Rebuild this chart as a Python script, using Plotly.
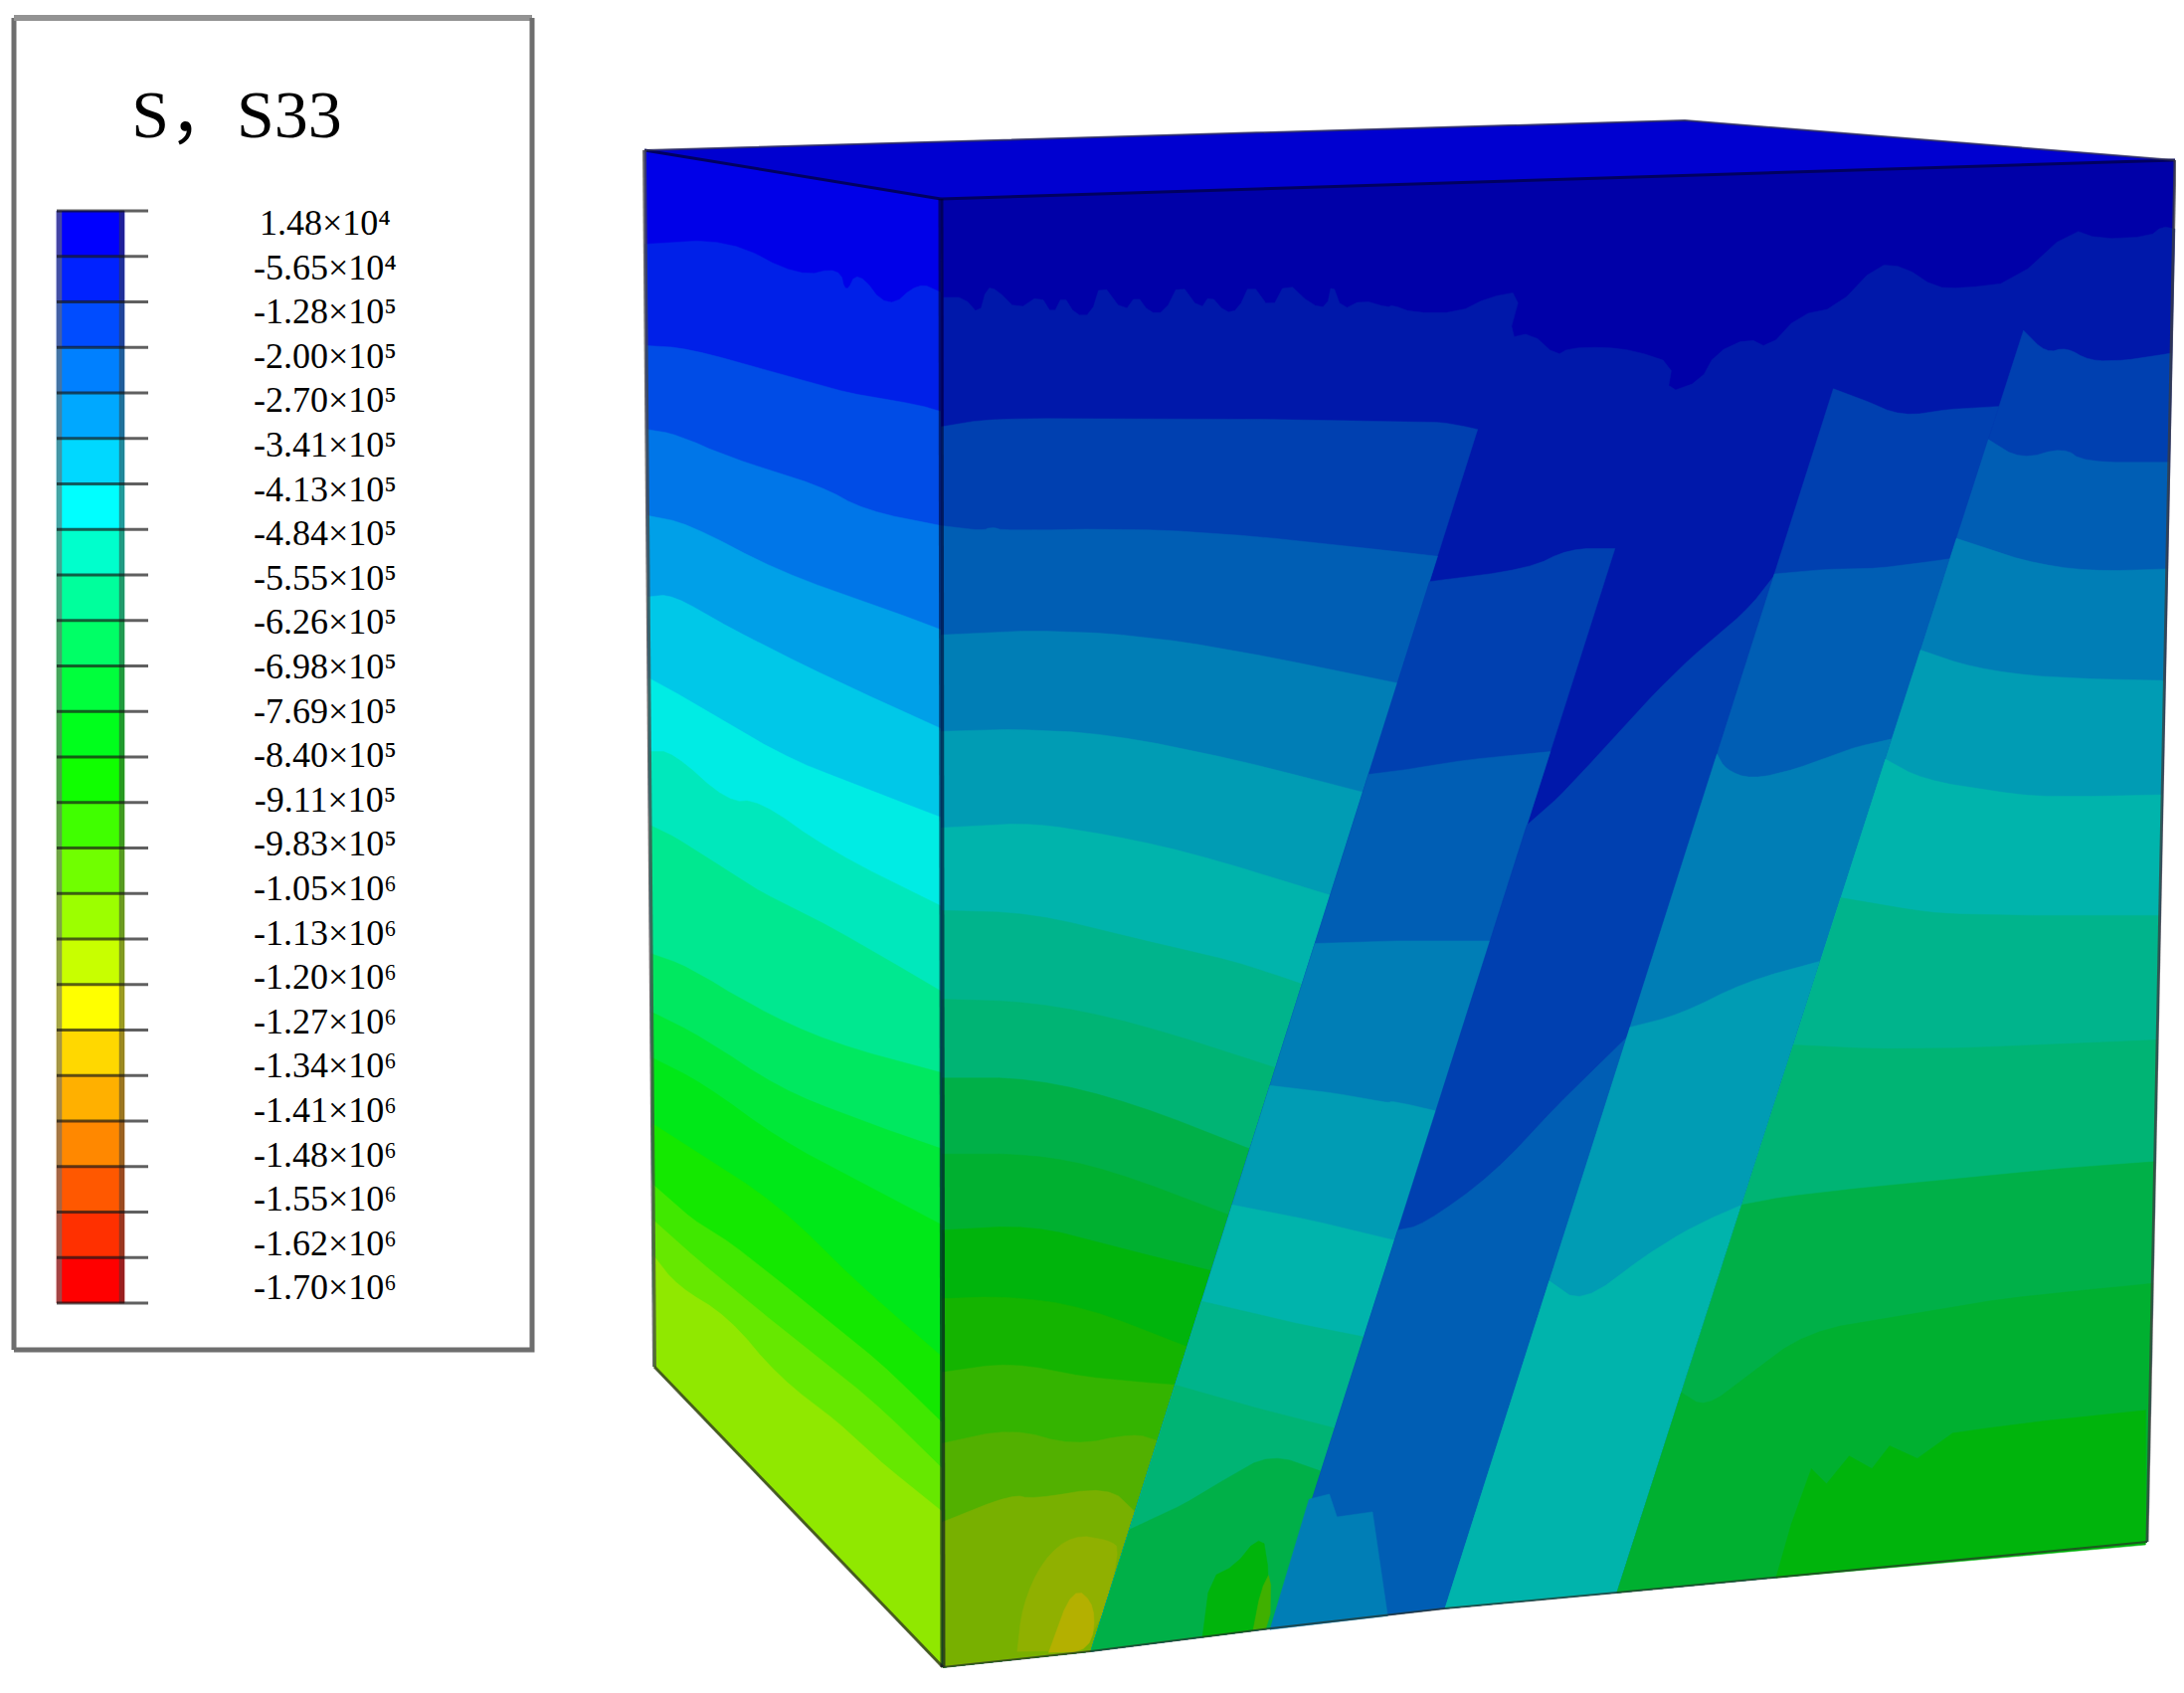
import plotly.graph_objects as go

# ---------- legend data ----------
legend_title = "S，S33"
legend_mantissa = ["1.48", "-5.65", "-1.28", "-2.00", "-2.70", "-3.41", "-4.13", "-4.84", "-5.55", "-6.26", "-6.98", "-7.69",
                   "-8.40", "-9.11", "-9.83", "-1.05", "-1.13", "-1.20", "-1.27", "-1.34", "-1.41", "-1.48", "-1.55", "-1.62", "-1.70"]
legend_exponent = ["⁴", "⁴", "⁵", "⁵", "⁵", "⁵", "⁵", "⁵", "⁵", "⁵", "⁵", "⁵", "⁵", "⁵", "⁵",
                   "⁶", "⁶", "⁶", "⁶", "⁶", "⁶", "⁶", "⁶", "⁶", "⁶"]
legend_colors = ["#0000ff", "#0022ff", "#004cff", "#0080ff", "#00a8ff", "#00d8ff", "#00ffff", "#00ffcc", "#00ff9c", "#00ff66",
                 "#00ff3c", "#00ff1c", "#10ff00", "#40ff00", "#70ff00", "#9cff00", "#c8ff00", "#ffff00", "#ffd800", "#ffb000",
                 "#ff8800", "#ff5800", "#ff3000", "#ff0000"]

# shaded contour colours on the two visible side faces and the top face
side_colors = ["#0000e8", "#0020e8", "#004ce6", "#0076e8", "#00a0e8", "#00c8e8", "#00ece4", "#00e8bc", "#00e890", "#00e860",
               "#00e838", "#00e818", "#14e800", "#40e800", "#66e800", "#90e800"]
front_colors = ["#0000a8", "#0018aa", "#0040b0", "#005eb4", "#007eb6", "#009cb4", "#00b4ac", "#00b48c", "#00b474", "#00b048",
                "#00b030", "#00b40c", "#14b400", "#34b400", "#52b000", "#78b000", "#90b000", "#b4b000"]
top_color = "#0000d0"

# ---------- reading grids of the four enlarged views ----------
def q(x0, y0, sx, pts):
    return [(x0 + a / sx, y0 + b / 1.96) for a, b in pts]
def c3(p): return q(630, 100, 1.96, p)
def c4(p): return q(1400, 100, 1.97, p)
def c5(p): return q(630, 900, 1.96, p)
def c6(p): return q(1400, 900, 1.97, p)

# cube corners
A, B, C, D = (648, 151), (946, 200), (2187, 161), (1694, 121)
E, F, G = (658, 1374), (948, 1676), (2159, 1550)

# joint lines on the front face
L1 = [(1485, 434), (1097, 1660)]
L2 = [(1624, 551), (1278, 1637)]
L3 = [(1844, 389), (1453, 1617)]
L4 = [(2035, 331), (1626, 1601)]

# ---------- left face contour lines ----------
side_bounds = [
    c3([(45,285),(200,275),(340,350),(420,330),(432,385),(455,335),(515,415),(575,360),(610,380)]),
    c3([(45,485),(120,490),(300,540),(440,580),(570,600),(610,615)]),
    c3([(45,650),(100,660),(200,705),(380,760),(470,810),(610,840)]),
    c3([(45,820),(120,835),(300,930),(500,1000),(610,1045)]),
    c3([(45,980),(90,975),(200,1040),(400,1140),(610,1240)]),
    c3([(45,1140),(100,1170),(300,1290),(450,1350),(610,1415)]),
    c3([(45,1285),(90,1285),(200,1385),(260,1380),(400,1480),(610,1590)]),
    c3([(45,1430),(90,1450),(200,1520),(260,1560)]) + c5([(400,60),(610,190)]),
    c5([(55,115),(120,140),(250,220),(400,290),(610,350)]),
    c5([(55,230),(150,280),(300,380),(450,440),(610,500)]),
    c5([(55,320),(150,370),(300,480),(450,560),(610,650)]),
    c5([(55,450),(130,500),(300,610),(450,760),(610,910)]),
    c5([(55,570),(130,640),(200,680),(350,800),(500,920),(610,1040)]),
    c5([(55,640),(130,710),(300,850),(480,990),(610,1130)]),
    c5([(60,710),(100,770),(200,830),(300,950),(420,1040),(480,1100),(610,1215)]),
]

# ---------- front face, contour line across the whole width ----------
front_top_bound = c3([(625,390),(665,390),(695,425),(710,370),(730,375),(770,415),(815,385),(840,425),(860,385),(885,425),(915,425),
                      (935,360),(980,420),(1005,385),(1030,420),(1060,420),(1090,360),(1130,415),(1150,385),(1180,420),(1205,415),
                      (1230,360),(1270,415),(1300,358),(1350,405),(1380,410),(1390,360),(1410,415),(1450,395),(1500,410)]) + \
                  c4([(0,405),(40,420),(130,420),(190,390),(255,378),(230,470),(275,460),(325,505),(350,490),(420,488),(480,495),
                      (555,520),(545,578),(610,555),(640,500),(705,470),(745,490),(805,425),(880,410),(960,325),(1015,330),(1075,370),
                      (1130,372),(1230,360),(1345,255),(1400,275),(1500,270),(1525,250),(1550,255)])

# ---------- left block ----------
left_zone = [
    (2, c3([(625,645),(720,628),(1000,630),(1300,630)]) + c4([(0,635),(100,635),(168,650)])),
    (3, c3([(625,840),(700,850),(720,842),(745,850),(1000,845),(1240,860)]) + c4([(0,890),(90,900)])),
    (4, c3([(625,1055),(800,1045),(1000,1055),(1200,1085),(1515,1150)])),
    (5, c3([(625,1245),(760,1240),(950,1250),(1200,1300),(1450,1365)])),
    (6, c3([(625,1435),(780,1425),(900,1440),(1100,1480),(1385,1568)])),
    (7, c5([(630,30),(800,35),(1000,85),(1200,130),(1320,175)])),
    (8, c5([(630,205),(800,210),(1000,250),(1270,340)])),
    (9, c5([(630,360),(800,360),(1000,410),(1225,500)])),
    (10, c5([(630,510),(800,510),(950,540),(1180,630)])),
    (11, c5([(630,660),(800,650),(950,690),(1140,740)])),
    (12, c5([(630,795),(750,790),(900,810),(1090,890)])),
    (13, c5([(630,940),(760,920),(900,950),(1070,965)])),
    (14, c5([(630,1080),(760,1050),(880,1085),(1000,1060),(1040,1075)])),
    (15, c5([(630,1235),(760,1180),(800,1190),(950,1165),(990,1215)])),
]
left_patch_16 = c5([(770,1490),(780,1400),(820,1310),(880,1260),(950,1270),(975,1290),(918,1488)])
left_patch_17 = c5([(832,1492),(880,1360),(925,1400),(915,1490)])

# ---------- first strip ----------
strip1 = [
    (2, c4([(85,950),(270,925),(350,885),(440,885)])),
    (3, c3([(1460,1330),(1500,1325)]) + c4([(0,1325),(150,1300),(305,1285)])),
    (4, c5([(1365,95),(1500,90)]) + c6([(0,90),(180,90)])),
    (5, c5([(1275,375),(1400,390),(1500,410)]) + c6([(0,405),(80,425)])),
    (6, c5([(1195,610),(1350,640),(1505,680)])),
    (7, c5([(1140,800),(1300,840),(1435,870)])),
    (8, c5([(1085,965),(1200,1000),(1385,1050)])),
    (9, c5([(1010,1250),(1100,1200),(1180,1150),(1270,1100),(1345,1135)])),
]
strip1_patch_green = c5([(1135,1462),(1150,1345),(1200,1320),(1240,1270),(1262,1280),(1268,1445)])
strip1_patch_olive = c5([(1235,1447),(1250,1370),(1270,1330),(1268,1445)])

# ---------- second strip ----------
strip2 = [
    (2, c4([(270,1430),(330,1375),(400,1300),(500,1190),(590,1100),(700,1010),(760,940)])),
    (3, c6([(10,660),(60,650),(200,550),(320,420),(465,280)])),
]
strip2_patch = c5([(1345,1190),(1385,1180),(1400,1225),(1470,1215),(1500,1420),(1268,1447)])

# ---------- third strip ----------
strip3 = [
    (2, c4([(875,570),(930,590),(1010,625),(1100,610),(1195,605)])),
    (3, c4([(765,935),(860,925),(960,925),(1090,905)])),
    (4, c4([(655,1290),(660,1320),(710,1340),(800,1320),(900,1280),(975,1260)])),
    (5, c6([(470,260),(570,235),(700,170),(840,130)])),
    (6, c6([(315,760),(375,805),(500,710),(600,650),(688,610)])),
]

# ---------- right block ----------
right_zone = [
    (2, c4([(1250,455),(1295,500),(1335,488),(1380,515),(1450,515),(1540,500)])),
    (3, c4([(1175,670),(1245,710),(1330,685),(1370,715),(1535,715)])),
    (4, c4([(1120,865),(1250,910),(1380,930),(1530,925)])),
    (5, c4([(1045,1085),(1150,1120),(1300,1140),(1520,1145)])),
    (6, c4([(980,1300),(1050,1340),(1200,1365),(1300,1375),(1515,1370)])),
    (7, c6([(885,5),(1000,25),(1120,40),(1510,40)])),
    (8, c6([(800,295),(1000,305),(1300,295),(1510,285)])),
    (9, c6([(690,610),(800,590),(1100,560),(1300,540),(1510,525)])),
    (10, c6([(570,980),(620,1010),(700,950),(820,860),(1000,830),(1200,795),(1500,765)])),
]
right_patch_11 = c6([(760,1345),(790,1240),(830,1130),(860,1160),(905,1105),(950,1130),(985,1085),(1040,1110),(1110,1060),(1180,1050),(1300,1035),(1492,1015),(1492,1280)])

# ---------- drawing helpers ----------
fig = go.Figure()

def smooth(pts, rounds=2):
    # corner cutting of a hand-read contour line; its ends stay where they are
    for _ in range(rounds):
        out = [pts[0]]
        for (x0, y0), (x1, y1) in zip(pts[:-1], pts[1:]):
            out.append((0.75 * x0 + 0.25 * x1, 0.75 * y0 + 0.25 * y1))
            out.append((0.25 * x0 + 0.75 * x1, 0.25 * y0 + 0.75 * y1))
        out.append(pts[-1])
        pts = out
    return pts

def poly(pts, color):
    xs = [p[0] for p in pts] + [pts[0][0]]
    ys = [p[1] for p in pts] + [pts[0][1]]
    fig.add_trace(go.Scatter(x=xs, y=ys, mode="lines", fill="toself", fillcolor=color,
                             line=dict(color=color, width=0.5), hoverinfo="skip", showlegend=False))

def line(pts, color, width):
    fig.add_trace(go.Scatter(x=[p[0] for p in pts], y=[p[1] for p in pts], mode="lines",
                             line=dict(color=color, width=width), hoverinfo="skip", showlegend=False))

def at_y(L, y):
    (x0, y0), (x1, y1) = L
    return x0 + (x1 - x0) * (y - y0) / (y1 - y0)

def band(left, right, bound, color):
    pts = list(bound)
    pts[0] = (at_y(left, pts[0][1]), pts[0][1])
    pts[-1] = (at_y(right, pts[-1][1]), pts[-1][1])
    poly(smooth(pts) + [right[1], left[1]], color)

# ---------- top face ----------
poly([A, D, C, B], top_color)

# ---------- left face ----------
poly([A, B, F, E], side_colors[0])
for i, b in enumerate(side_bounds):
    band([A, E], [B, F], b, side_colors[i + 1])

# ---------- front face ----------
edge_L = [B, F]
edge_R = [C, G]
poly([B, C, G, L4[1], L3[1], L2[1], L1[1], F], front_colors[0])
poly(smooth(front_top_bound, 1) + [G, L4[1], L3[1], L2[1], L1[1], F], front_colors[1])

for idx, b in left_zone:
    band(edge_L, L1, b, front_colors[idx])
poly(smooth(left_patch_16 + left_patch_16[:1]), front_colors[16])
poly(smooth(left_patch_17 + left_patch_17[:1]), front_colors[17])

for idx, b in strip1:
    band(L1, L2, b, front_colors[idx])
poly(smooth(strip1_patch_green + strip1_patch_green[:1], 1), front_colors[11])
poly(smooth(strip1_patch_olive + strip1_patch_olive[:1], 1), "#40b000")

for idx, b in strip2:
    band(L2, L3, b, front_colors[idx])
poly(strip2_patch, front_colors[4])

for idx, b in strip3:
    band(L3, L4, b, front_colors[idx])

for idx, b in right_zone:
    band(L4, edge_R, b, front_colors[idx])
poly(right_patch_11, "#00b40c")

# ---------- cube edges ----------
line([A, B], "#000060", 3)
line([B, C], "#000060", 3)
line([A, D, C], "rgba(50,50,80,0.7)", 2)
line([A, E], "rgba(70,70,70,0.75)", 4)
line([E, F], "rgba(60,70,30,0.85)", 3)
line([B, F], "rgba(0,0,40,0.6)", 5)
line([C, G], "rgba(60,60,60,0.75)", 3)
line([F, L1[1], L2[1], L3[1], L4[1], G], "rgba(40,50,40,0.7)", 2)

# ---------- legend ----------
frame_x0, frame_x1, frame_y0, frame_y1 = 14, 535, 18, 1357
line([(frame_x0, frame_y1), (frame_x0, frame_y0)], "#6e6e6e", 5)
line([(frame_x0, frame_y0), (frame_x1, frame_y0)], "#939393", 6)
line([(frame_x1, frame_y0), (frame_x1, frame_y1), (frame_x0, frame_y1)], "#6e6e6e", 5)

bar_x0, bar_x1, tick_x1, bar_top, bar_bot = 57, 125, 149, 212, 1310
step = (bar_bot - bar_top) / len(legend_colors)
for i, col in enumerate(legend_colors):
    y0 = bar_top + i * step
    poly([(bar_x0, y0), (bar_x1, y0), (bar_x1, y0 + step), (bar_x0, y0 + step)], col)
poly([(bar_x0, bar_top), (bar_x0 + 5, bar_top), (bar_x0 + 5, bar_bot), (bar_x0, bar_bot)], "rgba(110,110,110,0.6)")
poly([(bar_x1 - 5, bar_top), (bar_x1, bar_top), (bar_x1, bar_bot), (bar_x1 - 5, bar_bot)], "rgba(60,60,60,0.5)")
for i in range(len(legend_colors) + 1):
    y = bar_top + i * step
    line([(bar_x0, y), (tick_x1, y)], "rgba(20,20,20,0.68)", 3)

fig.add_trace(go.Scatter(
    x=[327] * len(legend_mantissa),
    y=[227 + i * 44.6 for i in range(len(legend_mantissa))],
    mode="text",
    text=[f"{m}×10{e}" for m, e in zip(legend_mantissa, legend_exponent)],
    textposition="middle center",
    textfont=dict(family="Liberation Serif", size=36, color="#000000"),
    hoverinfo="skip", showlegend=False))

fig.add_trace(go.Scatter(
    x=[238], y=[121], mode="text", text=[legend_title], textposition="middle center",
    textfont=dict(family="Liberation Serif, Noto Sans CJK SC", size=68, color="#000000"),
    hoverinfo="skip", showlegend=False))

# the page keeps an 8 px margin round the plot, so the plot starts at 8,8
fig.update_layout(
    width=2188, height=1694, margin=dict(l=0, r=0, t=0, b=0),
    paper_bgcolor="white", plot_bgcolor="white", showlegend=False,
    xaxis=dict(range=[8, 2196], visible=False, fixedrange=True),
    yaxis=dict(range=[1702, 8], visible=False, fixedrange=True),
)
fig.write_html("out.html", config=dict(displayModeBar=False))
